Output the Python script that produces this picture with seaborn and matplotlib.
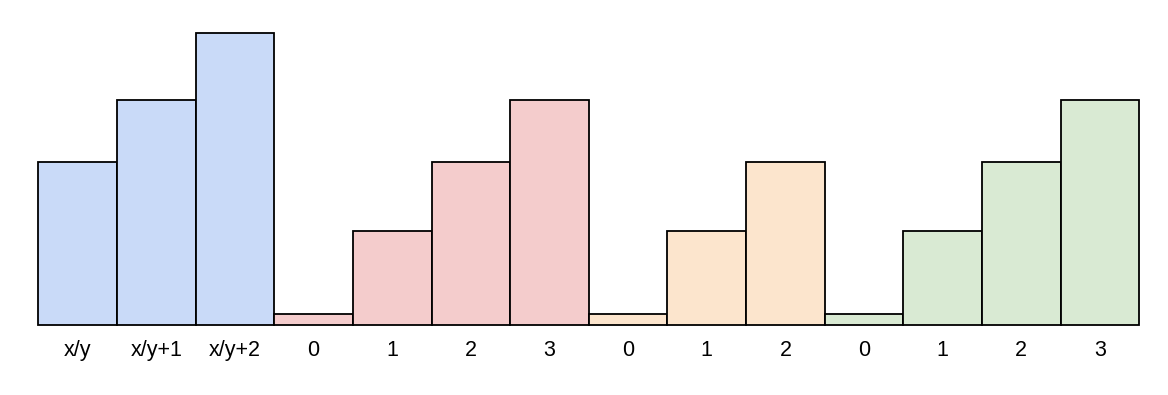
import matplotlib
matplotlib.use("Agg")
import matplotlib.pyplot as plt
import seaborn as sns
import pandas as pd

labels = ["x/y", "x/y+1", "x/y+2", "0", "1", "2", "3", "0", "1", "2", "0", "1", "2", "3"]
groups = ["A", "A", "A", "B", "B", "B", "B", "C", "C", "C", "D", "D", "D", "D"]
values = [16.3, 22.5, 29.2, 1.1, 9.4, 16.3, 22.5, 1.1, 9.4, 16.3, 1.1, 9.4, 16.3, 22.5]
group_colors = {"A": "#c9daf8", "B": "#f4cccc", "C": "#fce5cd", "D": "#d9ead3"}

df = pd.DataFrame({"pos": list(range(len(values))), "value": values, "group": groups})

sns.set_theme(style="white")
plt.rcParams["font.family"] = ["Liberation Sans", "DejaVu Sans"]

W, H = 1168, 395
fig = plt.figure(figsize=(W / 100, H / 100), dpi=100)
left_px, right_px, base_px, top_px = 38.3, 1139.3, 325.0, 20.0
ax = fig.add_axes([left_px / W, (H - base_px) / H, (right_px - left_px) / W, (base_px - top_px) / H])

sns.barplot(data=df, x="pos", y="value", hue="group", palette=group_colors,
            dodge=False, width=1.0, edgecolor="black", linewidth=1.3,
            saturation=1.0, legend=False, ax=ax, order=list(range(len(values))))

ax.set_xlim(-0.5, len(values) - 0.5)
ax.set_ylim(0, 29.2 * (base_px - top_px) / (base_px - 33.3))
ax.set_xticks(range(len(values)))
ax.set_xticklabels(labels, fontsize=15.5, color="black")
ax.tick_params(axis="x", length=0, pad=11)
ax.set_yticks([])
ax.set_xlabel("")
ax.set_ylabel("")
for s in ax.spines.values():
    s.set_visible(False)
for p in ax.patches:
    p.set_clip_on(False)

fig.savefig("out.png", dpi=100, facecolor="white")
